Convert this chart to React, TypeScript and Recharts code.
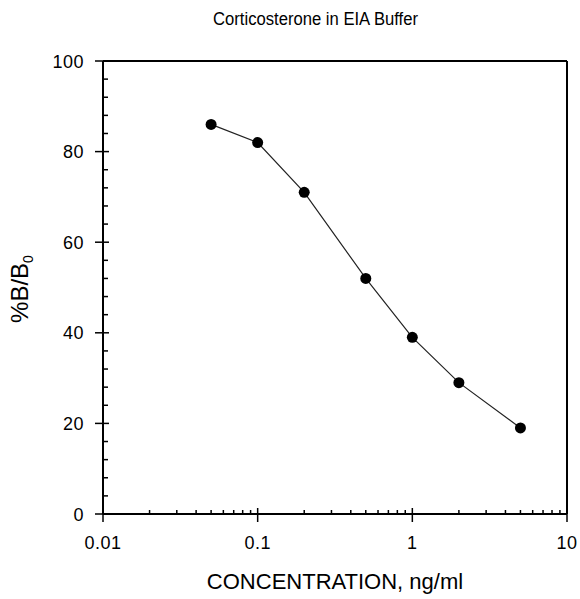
import { LineChart, Line, XAxis, YAxis } from "recharts";

// Standard curve: %B/B0 against corticosterone concentration (ng/ml)
const concentration = [0.05, 0.1, 0.2, 0.5, 1, 2, 5];
const percentBound = [86, 82, 71, 52, 39, 29, 19];

const xMajorTicks = [0.01, 0.1, 1, 10];
const xMinorTicks = [
  0.02, 0.03, 0.04, 0.05, 0.06, 0.07, 0.08, 0.09,
  0.2, 0.3, 0.4, 0.5, 0.6, 0.7, 0.8, 0.9,
  2, 3, 4, 5, 6, 7, 8, 9,
];
const yMajorTicks = [0, 20, 40, 60, 80, 100];
const yMinorTicks = [4, 8, 12, 16, 24, 28, 32, 36, 44, 48, 52, 56, 64, 68, 72, 76, 84, 88, 92, 96];

const title = "Corticosterone in EIA Buffer";
const xTitle = "CONCENTRATION, ng/ml";

const data = concentration.map((c, i) => ({ conc: c, pct: percentBound[i] }));
const xTicks = [...xMajorTicks, ...xMinorTicks];
const yTicks = [...yMajorTicks, ...yMinorTicks];

const tickFont = "'Liberation Sans', Arial, sans-serif";

function BottomTick({ x, y, payload }: any) {
  const major = xMajorTicks.includes(payload.value);
  return (
    <g>
      <line x1={x} x2={x} y1={major ? y - 6 : y - 4} y2={major ? y + 8 : y} stroke="#000" strokeWidth={1.5} />
      {major && (
        <text x={x} y={y + 35} textAnchor="middle" fontSize={18} letterSpacing={0.5} fontFamily={tickFont} fill="#000">
          {String(payload.value)}
        </text>
      )}
    </g>
  );
}

function TopTick({ x, y, payload }: any) {
  const major = xMajorTicks.includes(payload.value);
  return <line x1={x} x2={x} y1={y} y2={y + (major ? 6 : 4)} stroke="#000" strokeWidth={1.5} />;
}

function LeftTick({ x, y, payload }: any) {
  const major = yMajorTicks.includes(payload.value);
  return (
    <g>
      <line x1={major ? x - 8 : x} x2={major ? x + 6 : x + 5} y1={y} y2={y} stroke="#000" strokeWidth={1.5} />
      {major && (
        <text x={x - 19} y={y + 6.5} textAnchor="end" fontSize={18} letterSpacing={0.5} fontFamily={tickFont} fill="#000">
          {String(payload.value)}
        </text>
      )}
    </g>
  );
}

function RightTick({ x, y, payload }: any) {
  const major = yMajorTicks.includes(payload.value);
  return <line x1={x - (major ? 6 : 5)} x2={x} y1={y} y2={y} stroke="#000" strokeWidth={1.5} />;
}

function TitleLabel() {
  return (
    <text x={213} y={25} fontSize={18} textLength={205} lengthAdjust="spacingAndGlyphs"
      fontFamily={tickFont} fill="#000">
      {title}
    </text>
  );
}

function XTitleLabel() {
  return (
    <text x={335} y={589} textAnchor="middle" fontSize={22} fontFamily={tickFont} fill="#000">
      {xTitle}
    </text>
  );
}

function YTitleLabel() {
  return (
    <text x={0} y={0} transform="translate(28, 289) rotate(-90)" textAnchor="middle"
      fontSize={24} fontFamily={tickFont} fill="#000">
      %B/B<tspan dy={5} fontSize={14}>0</tspan>
    </text>
  );
}

export default function App() {
  return (
    <div style={{ position: "absolute", left: 0, top: 0, background: "#fff" }}>
      <LineChart width={580} height={599} data={data} margin={{ top: 0, right: 0, bottom: 0, left: 0 }}>
        <XAxis
          xAxisId="bottom" dataKey="conc" type="number" scale="log" domain={[0.01, 10]}
          ticks={xTicks} interval={0} height={85} tickSize={0} tickMargin={0} tickLine={false}
          axisLine={{ stroke: "#000", strokeWidth: 2 }} tick={<BottomTick />}
          label={{ content: () => <XTitleLabel /> }}
        />
        <XAxis
          xAxisId="top" orientation="top" type="number" scale="log" domain={[0.01, 10]}
          ticks={xTicks} interval={0} height={61} tickSize={0} tickMargin={0} tickLine={false}
          axisLine={{ stroke: "#000", strokeWidth: 2 }} tick={<TopTick />}
          label={{ content: () => <TitleLabel /> }}
        />
        <YAxis
          yAxisId="left" type="number" domain={[0, 100]} ticks={yTicks} interval={0} width={103}
          tickSize={0} tickMargin={0} tickLine={false}
          axisLine={{ stroke: "#000", strokeWidth: 2 }} tick={<LeftTick />}
          label={{ content: () => <YTitleLabel /> }}
        />
        <YAxis
          yAxisId="right" orientation="right" type="number" domain={[0, 100]} ticks={yTicks} interval={0} width={13}
          tickSize={0} tickMargin={0} tickLine={false}
          axisLine={{ stroke: "#000", strokeWidth: 2 }} tick={<RightTick />}
        />
        <Line
          xAxisId="bottom" yAxisId="left" type="linear" dataKey="pct" stroke="#222" strokeWidth={1.2}
          dot={{ r: 5.5, fill: "#000", stroke: "#000", strokeWidth: 0 }} isAnimationActive={false}
        />
      </LineChart>
    </div>
  );
}
